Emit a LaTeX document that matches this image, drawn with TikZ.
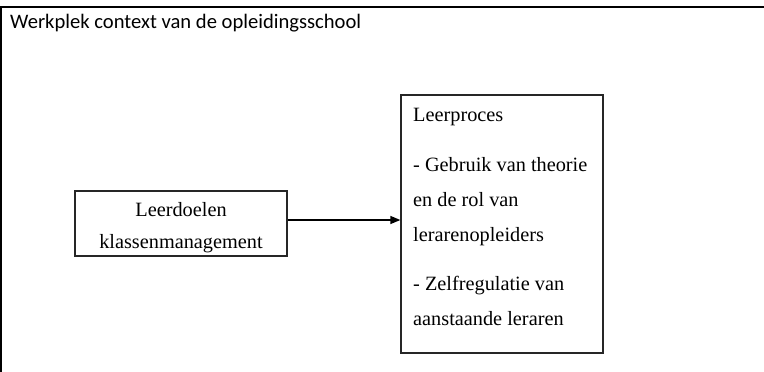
\documentclass[tikz,border=0pt]{standalone}
\usepackage{fontspec}
\setmainfont{Liberation Serif}
\newfontfamily\titlefont{Carlito}
\usetikzlibrary{arrows.meta}
\tikzset{
  boxstyle/.style={draw=black!85, line width=1.3pt, inner sep=0pt},
  serif/.style={font=\fontsize{20.3}{24}\selectfont, inner sep=0pt},
  arr/.style={line width=1.3pt, -{Triangle[length=10pt,width=8pt]}}
}
\begin{document}
\begin{tikzpicture}[x=1pt,y=-1pt]
\useasboundingbox (0,0) rectangle (764,372);
\fill[white] (0,0) rectangle (764,372);
% outer frame (cut off at right and bottom)
\draw[line width=2.2pt] (1.3,380) -- (1.3,7) -- (775,7);
\node[anchor=base west, inner sep=0pt, font=\titlefont\fontsize{20.6}{24}\selectfont] (title) at (10,28) {Werkplek context van de opleidingsschool};
% left box
\node[boxstyle, minimum width=212pt, minimum height=65pt] (lb) at (181,223.5) {};
\node[serif, anchor=base] (lb1) at (181,216.7) {Leerdoelen};
\node[serif, anchor=base] (lb2) at (181,248) {klassenmanagement};
% right box
\node[boxstyle, minimum width=202pt, minimum height=258pt] (lp) at (502,224) {};
\node[serif, anchor=base west] (lp1) at (413,121.7) {Leerproces};
\node[serif, anchor=base west] (lp2) at (413,171.5) {- Gebruik van theorie};
\node[serif, anchor=base west] (lp3) at (413,206.7) {en de rol van};
\node[serif, anchor=base west] (lp4) at (413,241.7) {lerarenopleiders};
\node[serif, anchor=base west] (lp5) at (413,290) {- Zelfregulatie van};
\node[serif, anchor=base west] (lp6) at (413,325) {aanstaande leraren};
% arrow
\draw[arr] ([yshift=3.5pt]lb.east) -- ([yshift=3.5pt]lb.east -| lp.west);
\end{tikzpicture}
\end{document}
